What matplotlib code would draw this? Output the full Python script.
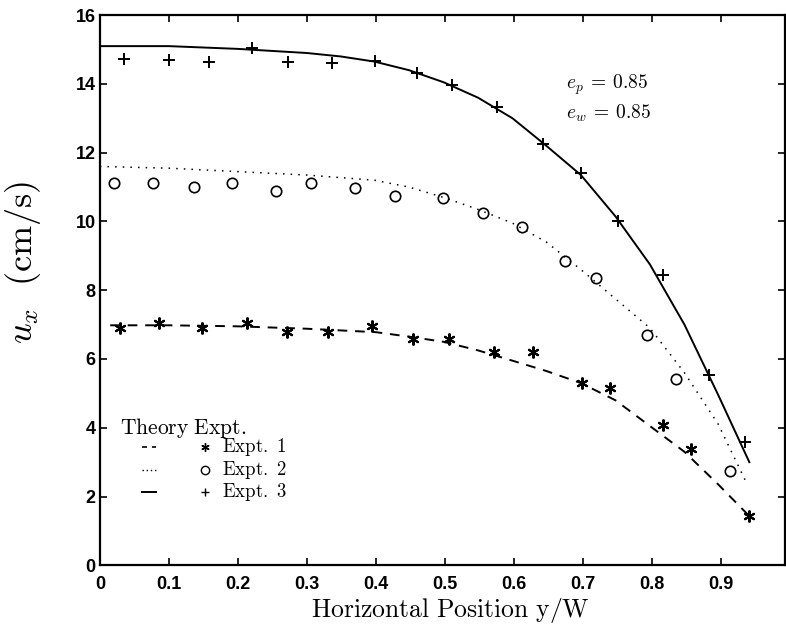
import matplotlib
matplotlib.use("Agg")
import matplotlib.pyplot as plt

plt.rcParams["mathtext.fontset"] = "cm"

# Theory curves
theory1_x = [0.015, 0.1, 0.2, 0.3, 0.4, 0.448, 0.498, 0.548, 0.598, 0.647, 0.697, 0.747, 0.797, 0.847, 0.896, 0.941]
theory1_y = [6.98, 6.98, 6.95, 6.88, 6.78, 6.65, 6.5, 6.25, 5.95, 5.65, 5.3, 4.8, 4.05, 3.3, 2.35, 1.43]

theory2_x = [0.0, 0.1, 0.2, 0.3, 0.398, 0.448, 0.498, 0.548, 0.598, 0.647, 0.697, 0.747, 0.797, 0.847, 0.896, 0.938]
theory2_y = [11.6, 11.55, 11.45, 11.35, 11.2, 11.0, 10.7, 10.35, 9.95, 9.4, 8.6, 7.75, 6.9, 5.6, 4.1, 2.35]

theory3_x = [0.0, 0.1, 0.2, 0.3, 0.349, 0.398, 0.448, 0.498, 0.548, 0.598, 0.647, 0.697, 0.747, 0.797, 0.847, 0.896, 0.941]
theory3_y = [15.1, 15.1, 15.02, 14.9, 14.8, 14.65, 14.4, 14.05, 13.6, 13.0, 12.2, 11.35, 10.15, 8.75, 7.0, 4.95, 3.0]

# Experiments
expt1_x = [0.029, 0.086, 0.148, 0.213, 0.271, 0.331, 0.394, 0.454, 0.506, 0.571, 0.627, 0.699, 0.739, 0.816, 0.856, 0.941]
expt1_y = [6.89, 7.04, 6.89, 7.04, 6.78, 6.78, 6.95, 6.57, 6.57, 6.2, 6.2, 5.29, 5.15, 4.07, 3.37, 1.43]

expt2_x = [0.021, 0.077, 0.136, 0.191, 0.255, 0.306, 0.370, 0.427, 0.497, 0.555, 0.612, 0.674, 0.719, 0.793, 0.835, 0.913]
expt2_y = [11.11, 11.11, 11.0, 11.11, 10.88, 11.11, 10.96, 10.73, 10.67, 10.24, 9.83, 8.85, 8.35, 6.69, 5.41, 2.73]

expt3_x = [0.035, 0.100, 0.158, 0.220, 0.273, 0.337, 0.398, 0.459, 0.510, 0.576, 0.642, 0.697, 0.751, 0.816, 0.882, 0.935]
expt3_y = [14.72, 14.69, 14.63, 15.04, 14.63, 14.60, 14.66, 14.31, 13.96, 13.32, 12.25, 11.40, 10.01, 8.44, 5.53, 3.58]

xticks = [0, 0.1, 0.2, 0.3, 0.4, 0.5, 0.6, 0.7, 0.8, 0.9]
xticklabels = ["0", "0.1", "0.2", "0.3", "0.4", "0.5", "0.6", "0.7", "0.8", "0.9"]
yticks = [0, 2, 4, 6, 8, 10, 12, 14, 16]

ASTERISK = (6, 2, 0)

fig = plt.figure(figsize=(7.86, 6.33), dpi=100)
ax = fig.add_axes([0.127, 0.107, 0.872, 0.869])

ax.plot(theory1_x, theory1_y, color="black", lw=1.4, linestyle=(0, (5, 4)))
ax.plot(theory2_x, theory2_y, color="black", lw=1.1, linestyle=(0, (1, 4)))
ax.plot(theory3_x, theory3_y, color="black", lw=1.4, linestyle="-")

ax.plot(expt1_x, expt1_y, linestyle="none", marker=ASTERISK, ms=8.5, mew=1.5, color="black")
ax.plot(expt2_x, expt2_y, linestyle="none", marker="o", ms=7.5, mew=1.2, mfc="none", mec="black")
ax.plot(expt3_x, expt3_y, linestyle="none", marker="+", ms=9, mew=1.4, color="black")

ax.set_xlim(0, 0.993)
ax.set_ylim(0, 16)
ax.set_xticks(xticks)
ax.set_xticklabels(xticklabels)
ax.set_yticks(yticks)
ax.tick_params(direction="in", top=True, right=True, length=5, width=1.2)
ax.tick_params(axis="x", pad=8)
ax.tick_params(axis="y", pad=3)
for lab in ax.get_xticklabels() + ax.get_yticklabels():
    lab.set_fontfamily("Liberation Sans")
    lab.set_fontweight("bold")
    lab.set_fontsize(13)
for sp in ax.spines.values():
    sp.set_linewidth(1.6)

ax.set_xlabel(r"$\mathrm{Horizontal\ Position\ y/W}$", fontsize=18.5)
ax.xaxis.set_label_coords(0.511, -0.055)
ax.set_ylabel(r"$u_x\ \ \mathrm{(cm/s)}$", fontsize=26)
ax.yaxis.set_label_coords(-0.083, 0.55)

# parameter annotation
ax.text(0.68, 0.873, r"$e_p\:=\:0.85$", transform=ax.transAxes, fontsize=14, va="center")
ax.text(0.68, 0.822, r"$e_w\:=\:0.85$", transform=ax.transAxes, fontsize=14, va="center")

# legend block
ax.text(0.029, 0.249, r"$\mathrm{Theory\ Expt.}$", transform=ax.transAxes, fontsize=15.5, va="center")
rows = [
    ((0, (3, 3)), 1.2, ASTERISK, "none", r"$\mathrm{Expt.\ 1}$"),
    ((0, (1, 2)), 1.0, "o", "none", r"$\mathrm{Expt.\ 2}$"),
    ("-", 1.4, "+", "none", r"$\mathrm{Expt.\ 3}$"),
]
row_y = [0.215, 0.173, 0.133]
for (ls, lw, mk, mfc, label), yy in zip(rows, row_y):
    ax.plot([0.062, 0.082], [yy, yy], transform=ax.transAxes, color="black", ls=ls, lw=lw)
    ax.plot([0.153], [yy], transform=ax.transAxes, marker=mk, ms=6, mfc=mfc, mec="black",
            mew=1.0, color="black", linestyle="none")
    ax.text(0.178, yy, label, transform=ax.transAxes, fontsize=13.5, va="center")

fig.savefig("out.png", dpi=100)
